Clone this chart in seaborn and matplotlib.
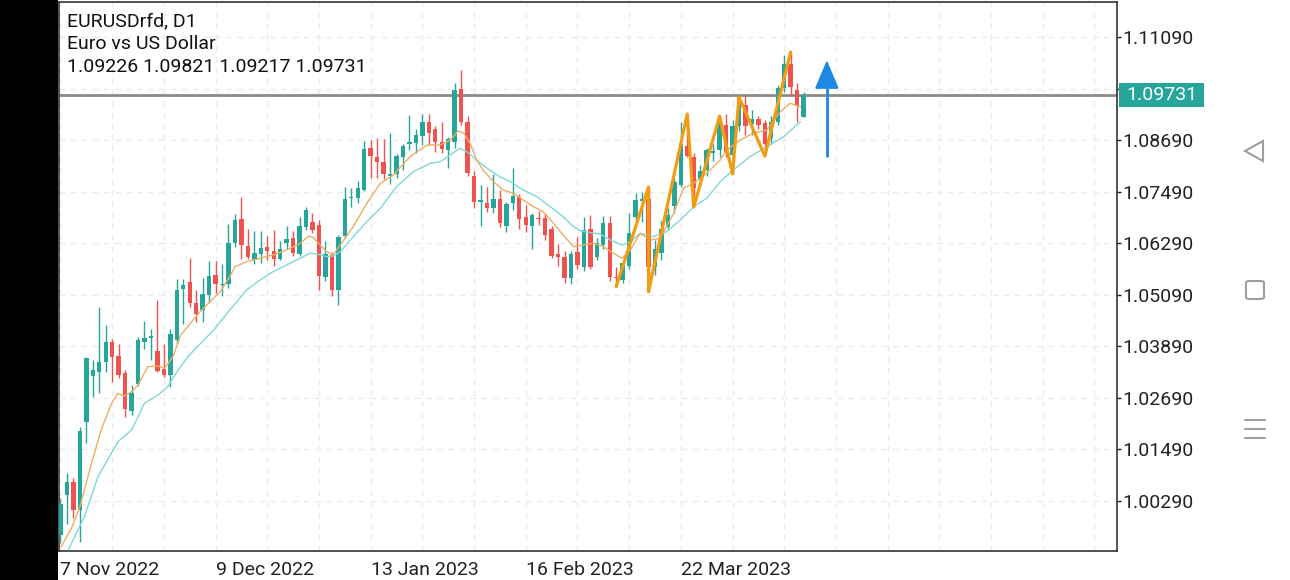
import matplotlib
matplotlib.use("Agg")
import matplotlib.pyplot as plt
import matplotlib.transforms as mtransforms
from matplotlib.patches import Rectangle, Polygon, FancyBboxPatch
from matplotlib.lines import Line2D
import pandas as pd
import seaborn as sns

# daily bars, bar 0 = 7 Nov 2022, last bar = 18 Apr 2023
opens = [
    0.9950, 1.0043, 1.0072, 1.0009, 1.0212, 1.0320, 1.0330, 1.0353, 1.0398, 1.0367,
    1.0328, 1.0238, 1.0301, 1.0398, 1.0409, 1.0378, 1.0336, 1.0322, 1.0404, 1.0522,
    1.0538, 1.0489, 1.0474, 1.0508, 1.0555, 1.0531, 1.0534, 1.0630, 1.0685, 1.0623,
    1.0590, 1.0604, 1.0621, 1.0611, 1.0592, 1.0630, 1.0642, 1.0604, 1.0667, 1.0679,
    1.0671, 1.0551, 1.0602, 1.0520, 1.0645, 1.0734, 1.0735, 1.0754, 1.0851, 1.0829,
    1.0819, 1.0786, 1.0790, 1.0829, 1.0861, 1.0863, 1.0879, 1.0912, 1.0894, 1.0864,
    1.0846, 1.0865, 1.0988, 1.0910, 1.0786, 1.0726, 1.0723, 1.0712, 1.0733, 1.0669,
    1.0723, 1.0737, 1.0689, 1.0670, 1.0688, 1.0687, 1.0661, 1.0603, 1.0598, 1.0547,
    1.0608, 1.0574, 1.0663, 1.0598, 1.0625, 1.0675, 1.0551, 1.0543, 1.0576, 1.0691,
    1.0728, 1.0732, 1.0574, 1.0607, 1.0667, 1.0716, 1.0764, 1.0855, 1.0830, 1.0776,
    1.0800, 1.0840, 1.0846, 1.0904, 1.0834, 1.0902, 1.0951, 1.0906, 1.0917, 1.0908,
    1.0873, 1.0910, 1.0990, 1.1046, 1.0986, 1.09226]
highs = [
    1.0035, 1.0095, 1.0082, 1.0200, 1.0365, 1.0357, 1.0481, 1.0439, 1.0405, 1.0394,
    1.0334, 1.0300, 1.0410, 1.0448, 1.0429, 1.0497, 1.0394, 1.0430, 1.0545, 1.0545,
    1.0595, 1.0520, 1.0549, 1.0588, 1.0588, 1.0580, 1.0673, 1.0696, 1.0737, 1.0661,
    1.0657, 1.0657, 1.0646, 1.0660, 1.0633, 1.0669, 1.0657, 1.0691, 1.0713, 1.0699,
    1.0683, 1.0634, 1.0609, 1.0648, 1.0761, 1.0758, 1.0774, 1.0867, 1.0869, 1.0873,
    1.0871, 1.0886, 1.0836, 1.0860, 1.0927, 1.0896, 1.0930, 1.0930, 1.0902, 1.0912,
    1.0877, 1.1001, 1.1032, 1.0925, 1.0798, 1.0764, 1.0759, 1.0790, 1.0753, 1.0725,
    1.0803, 1.0743, 1.0718, 1.0699, 1.0705, 1.0699, 1.0670, 1.0627, 1.0612, 1.0612,
    1.0644, 1.0691, 1.0695, 1.0640, 1.0692, 1.0692, 1.0574, 1.0590, 1.0699, 1.0747,
    1.0749, 1.0760, 1.0636, 1.0680, 1.0710, 1.0780, 1.0912, 1.0930, 1.0840, 1.0810,
    1.0850, 1.0860, 1.0925, 1.0930, 1.0915, 1.0972, 1.0972, 1.0940, 1.0925, 1.0915,
    1.0925, 1.0998, 1.1067, 1.1074, 1.1001, 1.09821]
lows = [
    0.9930, 0.9975, 0.9989, 0.9934, 1.0165, 1.0272, 1.0281, 1.0330, 1.0307, 1.0315,
    1.0224, 1.0228, 1.0297, 1.0383, 1.0356, 1.0330, 1.0318, 1.0294, 1.0395, 1.0440,
    1.0481, 1.0445, 1.0445, 1.0490, 1.0512, 1.0505, 1.0525, 1.0620, 1.0592, 1.0592,
    1.0581, 1.0582, 1.0590, 1.0575, 1.0590, 1.0615, 1.0600, 1.0600, 1.0660, 1.0652,
    1.0520, 1.0540, 1.0505, 1.0485, 1.0640, 1.0713, 1.0722, 1.0750, 1.0780, 1.0780,
    1.0778, 1.0767, 1.0780, 1.0800, 1.0846, 1.0838, 1.0858, 1.0858, 1.0842, 1.0838,
    1.0803, 1.0850, 1.0905, 1.0785, 1.0710, 1.0670, 1.0702, 1.0700, 1.0667, 1.0656,
    1.0706, 1.0661, 1.0656, 1.0615, 1.0671, 1.0636, 1.0595, 1.0576, 1.0536, 1.0534,
    1.0570, 1.0565, 1.0568, 1.0590, 1.0615, 1.0542, 1.0528, 1.0537, 1.0570, 1.0680,
    1.0679, 1.0516, 1.0555, 1.0590, 1.0660, 1.0700, 1.0760, 1.0830, 1.0716, 1.0760,
    1.0785, 1.0820, 1.0830, 1.0830, 1.0790, 1.0890, 1.0880, 1.0880, 1.0895, 1.0832,
    1.0860, 1.0905, 1.0980, 1.0974, 1.0912, 1.09217]
closes = [
    1.0022, 1.0074, 1.0009, 1.0192, 1.0361, 1.0335, 1.0353, 1.0400, 1.0365, 1.0322,
    1.0242, 1.0281, 1.0404, 1.0409, 1.0413, 1.0332, 1.0322, 1.0418, 1.0520, 1.0532,
    1.0489, 1.0465, 1.0510, 1.0553, 1.0534, 1.0534, 1.0630, 1.0683, 1.0625, 1.0598,
    1.0607, 1.0617, 1.0612, 1.0592, 1.0615, 1.0638, 1.0606, 1.0670, 1.0706, 1.0660,
    1.0553, 1.0604, 1.0520, 1.0644, 1.0733, 1.0737, 1.0757, 1.0848, 1.0832, 1.0819,
    1.0789, 1.0790, 1.0832, 1.0856, 1.0865, 1.0881, 1.0910, 1.0886, 1.0864, 1.0848,
    1.0872, 1.0986, 1.0912, 1.0793, 1.0726, 1.0728, 1.0712, 1.0733, 1.0677, 1.0720,
    1.0740, 1.0685, 1.0671, 1.0695, 1.0685, 1.0648, 1.0600, 1.0598, 1.0547, 1.0605,
    1.0578, 1.0659, 1.0574, 1.0630, 1.0675, 1.0551, 1.0547, 1.0582, 1.0652, 1.0730,
    1.0732, 1.0574, 1.0615, 1.0663, 1.0695, 1.0772, 1.0861, 1.0832, 1.0757, 1.0798,
    1.0845, 1.0844, 1.0912, 1.0838, 1.0902, 1.0970, 1.0902, 1.0917, 1.0904, 1.0860,
    1.0912, 1.0990, 1.1046, 1.0992, 1.0948, 1.09731]

# moving averages (bar position, price)
fast_ma_bar = [0.1, 1.7, 3.0, 4.8, 6.3, 7.9, 8.9, 9.9, 11.0, 12.0,
               13.5, 15.1, 16.1, 17.4, 18.6, 21.6, 24.7, 26.2, 27.0, 28.8,
               30.9, 32.9, 35.0, 37.1, 38.4, 39.1, 40.2, 41.2, 42.2, 43.3,
               45.3, 47.4, 49.5, 51.5, 54.1, 56.7, 58.8, 60.3, 61.6, 62.4,
               63.4, 64.4, 65.4, 67.0, 68.5, 70.1, 71.6, 73.2, 74.7, 76.3,
               77.8, 79.4, 80.9, 82.5, 84.0, 85.6, 86.9, 88.2, 89.7, 91.3,
               92.8, 94.9, 96.4, 98.0, 100.0, 102.1, 103.1, 105.2, 107.2, 109.3,
               111.4, 112.9, 114.5]
fast_ma_price = [0.99225, 0.99654, 1.00156, 1.01167, 1.01942, 1.02563, 1.02796, 1.02733, 1.02833, 1.02989,
                 1.03415, 1.03432, 1.03378, 1.03648, 1.0415, 1.04696, 1.05161, 1.0551, 1.05743, 1.0586,
                 1.05939, 1.06015, 1.06132, 1.06288, 1.06458, 1.06428, 1.06248, 1.06092, 1.06015, 1.06248,
                 1.06674, 1.07219, 1.07684, 1.07878, 1.08304, 1.08576, 1.08576, 1.08692, 1.08909, 1.08848,
                 1.08616, 1.08227, 1.07994, 1.07722, 1.07529, 1.07452, 1.07296, 1.0714, 1.07023, 1.06753,
                 1.06481, 1.06209, 1.06248, 1.06288, 1.06209, 1.06055, 1.05939, 1.06132, 1.06521, 1.06365,
                 1.06404, 1.06986, 1.07568, 1.07684, 1.07917, 1.08227, 1.0846, 1.08692, 1.08848, 1.08925,
                 1.09351, 1.09547, 1.09468]
slow_ma_bar = [1.2, 3.7, 5.8, 8.9, 11.0, 13.0, 15.1, 16.6, 18.2, 19.7,
               23.7, 26.2, 28.8, 30.9, 32.9, 35.0, 37.1, 38.6, 39.7, 41.2,
               42.2, 43.3, 45.3, 47.4, 49.5, 52.0, 54.6, 57.2, 58.8, 60.3,
               61.8, 62.9, 64.4, 66.0, 68.0, 69.6, 71.6, 73.7, 75.8, 77.8,
               79.4, 80.4, 82.0, 83.5, 85.1, 86.9, 88.2, 89.7, 91.8, 93.8,
               95.9, 98.0, 100.0, 102.1, 104.1, 106.7, 109.3, 111.9, 114.5]
slow_ma_price = [0.99149, 0.99924, 1.00855, 1.0167, 1.01942, 1.02563, 1.02757, 1.0295, 1.03338, 1.03648,
                 1.0427, 1.04735, 1.05201, 1.05434, 1.05627, 1.05783, 1.05939, 1.06055, 1.06039, 1.05976,
                 1.05992, 1.06092, 1.06441, 1.06791, 1.07103, 1.07605, 1.07955, 1.0815, 1.08187, 1.08343,
                 1.08499, 1.0842, 1.08227, 1.08034, 1.07838, 1.07722, 1.07529, 1.07373, 1.0714, 1.06907,
                 1.06674, 1.06581, 1.06535, 1.06504, 1.06365, 1.06248, 1.06325, 1.06521, 1.06442, 1.06558,
                 1.0683, 1.07139, 1.07335, 1.07722, 1.07994, 1.08304, 1.08536, 1.08769, 1.09118]

# hand drawn zigzag trend line
zigzag_bar = [86, 91, 91, 97, 98, 102, 104, 105, 109, 113]
zigzag_price = [1.0528, 1.0760, 1.0516, 1.0930, 1.0713, 1.0925, 1.0790, 1.0969, 1.0832, 1.1074]

# blue arrow object
arrow_bar = 118.6
arrow_start = 1.0830
arrow_head_base = 1.0990
arrow_tip = 1.1051

date_tick_bars = [0, 24, 48, 72, 96]
date_tick_labels = ["7 Nov 2022", "9 Dec 2022", "13 Jan 2023", "16 Feb 2023", "22 Mar 2023"]
price_ticks = [1.00290, 1.01490, 1.02690, 1.03890, 1.05090, 1.06290, 1.07490, 1.08690, 1.09890, 1.11090]
header_lines = ["EURUSDrfd, D1", "Euro vs US Dollar", "1.09226 1.09821 1.09217 1.09731"]

BULL = "#26a69a"
BEAR = "#ef5350"

sns.set_style("white")
plt.rcParams["font.family"] = ["Roboto", "DejaVu Sans"]

df = pd.DataFrame({"open": opens, "high": highs, "low": lows, "close": closes})
df["bar"] = range(len(df))
df["color"] = [BULL if c >= o else BEAR for o, c in zip(df["open"], df["close"])]
df["body_low"] = df[["open", "close"]].min(axis=1)
df["body_h"] = (df["close"] - df["open"]).abs().clip(lower=0.00025)

fig = plt.figure(figsize=(12.9, 5.8), dpi=100)
ax = fig.add_axes([59 / 1290, 29 / 580, 1058 / 1290, 549 / 580])

ax.vlines(df["bar"], df["low"], df["high"], colors=df["color"], lw=1.0, zorder=3)
ax.bar(df["bar"], df["body_h"], bottom=df["body_low"], width=0.68,
       color=df["color"], lw=0, zorder=4)

sns.lineplot(x=slow_ma_bar, y=slow_ma_price, ax=ax, color="#80d8d8", lw=1.0,
             estimator=None, sort=False, legend=False, zorder=5)
sns.lineplot(x=fast_ma_bar, y=fast_ma_price, ax=ax, color="#efae60", lw=1.0,
             estimator=None, sort=False, legend=False, zorder=5)
sns.lineplot(x=zigzag_bar, y=zigzag_price, ax=ax, color="#f39c12", lw=2.3,
             estimator=None, sort=False, legend=False, zorder=6)

last_close = closes[-1]
ax.axhline(last_close, color="#8e8a85", lw=2, zorder=2)

# arrow
ax.plot([arrow_bar, arrow_bar], [arrow_start, arrow_head_base], color="#1e88e5", lw=2, zorder=7,
        solid_capstyle="butt")
ax.add_patch(Polygon([(arrow_bar - 1.7, arrow_head_base), (arrow_bar + 1.7, arrow_head_base),
                      (arrow_bar, arrow_tip)], closed=True, color="#1e88e5", zorder=7))

ax.set_xlim(-0.23, 163.5)
ax.set_ylim(0.99125, 1.11905)

ax.yaxis.tick_right()
ax.set_yticks(price_ticks)
ax.set_yticklabels([f"{p:.5f}" for p in price_ticks])
ax.set_xticks(date_tick_bars)
ax.set_xticklabels(date_tick_labels)
for lbl in ax.get_xticklabels():
    lbl.set_ha("left")
ax.set_xticks(range(0, 164, 8), minor=True)
ax.tick_params(axis="y", length=3, width=1, pad=1, labelsize=14, colors="#222222")
ax.tick_params(axis="x", which="major", length=5, width=1, pad=2, labelsize=14, colors="#222222")
ax.tick_params(axis="x", which="minor", length=3, width=1, colors="#222222")
ax.set_xlabel("")
ax.set_ylabel("")

ax.grid(True, axis="x", which="both", ls=(0, (4, 4)), color="#ebebeb", lw=1)
ax.grid(True, axis="y", which="major", ls=(0, (4, 4)), color="#ebebeb", lw=1)
ax.set_axisbelow(True)
for s in ax.spines.values():
    s.set_color("#333333")
    s.set_linewidth(1.2)

# current price tag on the price scale (covers the 1.09890 label, as in the app)
trans = mtransforms.blended_transform_factory(ax.transAxes, ax.transData)
ax.add_patch(Rectangle((1.002, last_close - 0.0028), 0.080, 0.0056, transform=trans,
                       facecolor=BULL, edgecolor="none", clip_on=False, zorder=10))
ax.text(1.042, last_close, f"{last_close:.5f}", transform=trans, ha="center", va="center",
        color="white", fontsize=14, zorder=11, clip_on=False)

# symbol header
for k, line in enumerate(header_lines):
    ax.text(0.0076, 0.9654 - k * 0.0419, line, transform=ax.transAxes, ha="left", va="center",
            fontsize=14, color="#111111", zorder=12)

# phone frame: black strip on the left, navigation buttons on the right
fig.add_artist(Rectangle((0, 0), 58 / 1290, 1, transform=fig.transFigure,
                         facecolor="black", edgecolor="none"))
nav = "#9e9e9e"


def px(x, y):
    return (x / 1290, 1 - y / 580)


fig.add_artist(Polygon([px(1245, 151), px(1263, 141), px(1263, 161)], closed=True,
                       fill=False, edgecolor=nav, lw=1.5, transform=fig.transFigure))
fig.add_artist(FancyBboxPatch(px(1246, 299), 18 / 1290, 18 / 580,
                              boxstyle="round,pad=0,rounding_size=0.003",
                              fill=False, edgecolor=nav, lw=1.5, transform=fig.transFigure))
for yy in [420, 429, 438]:
    (x0, y0), (x1, _) = px(1245, yy), px(1265, yy)
    fig.add_artist(Line2D([x0, x1], [y0, y0], color=nav, lw=1.5, transform=fig.transFigure))

fig.savefig("out.png", dpi=100)
